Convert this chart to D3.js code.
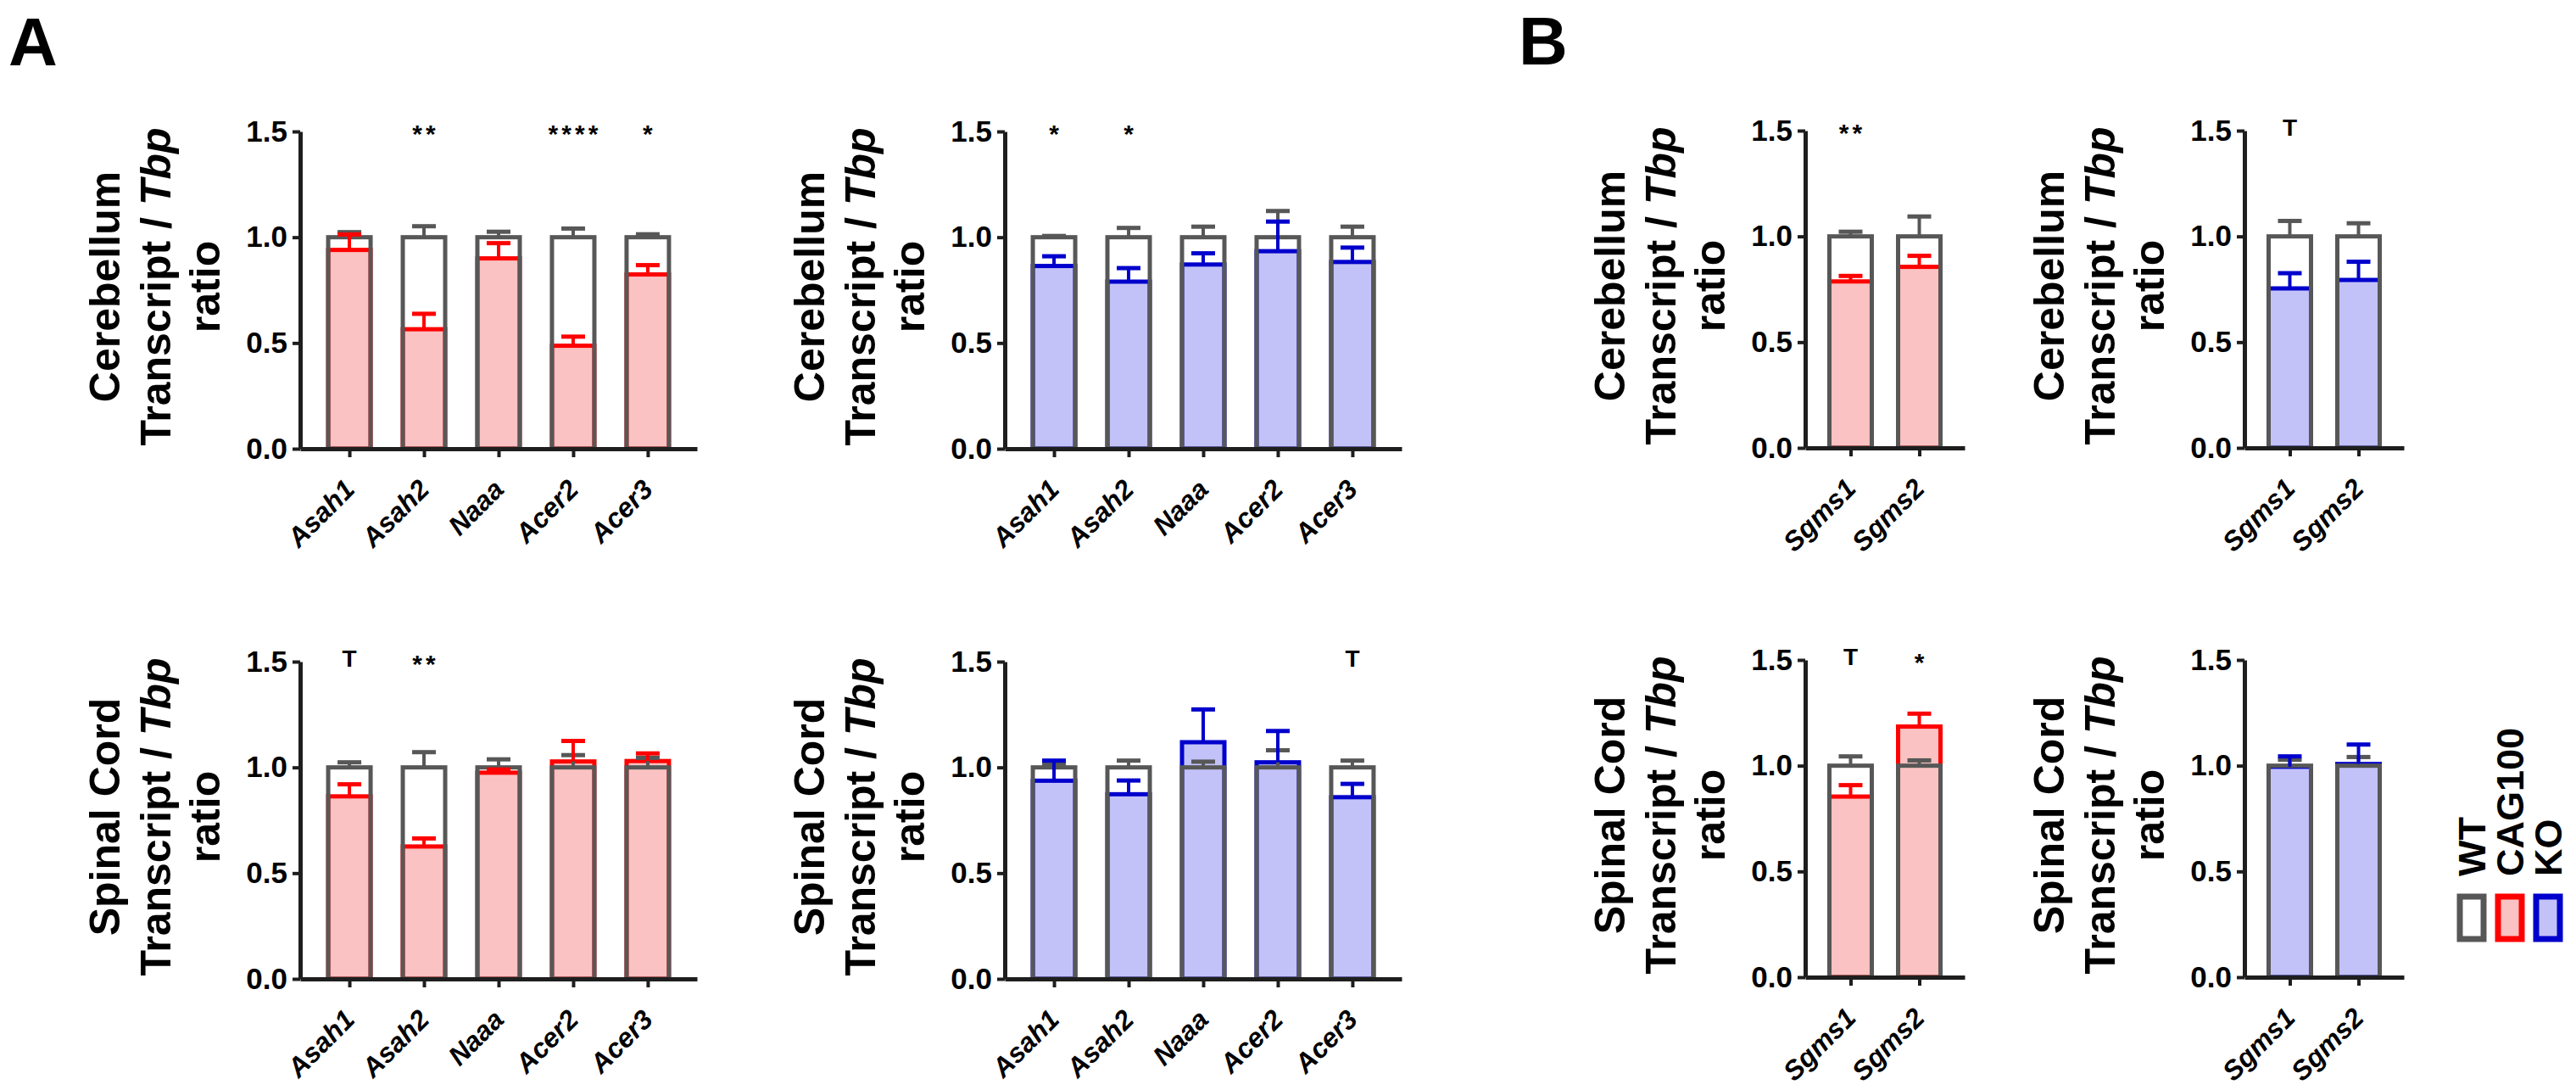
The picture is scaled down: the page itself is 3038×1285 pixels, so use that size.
<!DOCTYPE html>
<html>
<head>
<meta charset="utf-8">
<script src="https://d3js.org/d3.v7.min.js"></script>
<style>
    body { margin: 0; background: #ffffff; }
    text { font-family: "Liberation Sans", Arial, sans-serif; font-weight: bold; fill: #000000; }
</style>
</head>
<body>
<div id="chart"></div>
<script>
//gene categories
var aGenes = ['Asah1', 'Asah2', 'Naaa', 'Acer2', 'Acer3'];
var bGenes = ['Sgms1', 'Sgms2'];
var yTicks = [0, 0.5, 1.0, 1.5];
var groups = ['WT', 'CAG100', 'KO'];

//cerebellum, ceramidases, CAG100 (WT mean is 1)
var cbCagWtErr = [1.024, 1.052, 1.026, 1.041, 1.014];
var cbCagMean = [0.94, 0.565, 0.90, 0.487, 0.824];
var cbCagErr = [1.013, 0.638, 0.972, 0.53, 0.868];
var cbCagSig = ['', '**', '', '****', '*'];

//cerebellum, ceramidases, KO
var cbKoWtErr = [1.006, 1.044, 1.05, 1.124, 1.05];
var cbKoMean = [0.864, 0.79, 0.871, 0.934, 0.883];
var cbKoErr = [0.91, 0.854, 0.924, 1.074, 0.951];
var cbKoSig = ['*', '*', '', '', ''];

//spinal cord, ceramidases, CAG100
var scCagWtErr = [1.024, 1.072, 1.038, 1.058, 1.045];
var scCagMean = [0.863, 0.626, 0.975, 1.028, 1.03];
var scCagErr = [0.92, 0.664, 0.99, 1.125, 1.066];
var scCagSig = ['T', '**', '', '', ''];

//spinal cord, ceramidases, KO
var scKoWtErr = [1.016, 1.032, 1.027, 1.081, 1.032];
var scKoMean = [0.937, 0.873, 1.119, 1.024, 0.859];
var scKoErr = [1.032, 0.938, 1.274, 1.172, 0.922];
var scKoSig = ['', '', '', '', 'T'];

//cerebellum, sphingomyelin synthases
var cbSgCagWtErr = [1.022, 1.094];
var cbSgCagMean = [0.787, 0.856];
var cbSgCagErr = [0.813, 0.908];
var cbSgCagSig = ['**', ''];
var cbSgKoWtErr = [1.073, 1.062];
var cbSgKoMean = [0.754, 0.794];
var cbSgKoErr = [0.826, 0.88];
var cbSgKoSig = ['T', ''];

//spinal cord, sphingomyelin synthases
var scSgCagWtErr = [1.044, 1.025];
var scSgCagMean = [0.854, 1.185];
var scSgCagErr = [0.908, 1.246];
var scSgCagSig = ['T', '*'];
var scSgKoWtErr = [1.028, 1.041];
var scSgKoMean = [0.995, 1.008];
var scSgKoErr = [1.044, 1.1];
var scSgKoSig = ['', ''];

(function () {
    var width = 3038,
        height = 1285,
        plotHeight = 374,
        barWidth = 50,
        capWidth = 28,
        wtColor = '#575757',
        axisColor = '#1e1e1e',
        lineColors = { CAG100: '#ff0000', KO: '#0000cc' },
        fillColors = { CAG100: '#fac2c2', KO: '#c2c2f8' };

    //panel definitions
    var panels = [
        { genes: aGenes, tissue: 'Cerebellum', group: 'CAG100', wtErr: cbCagWtErr, mean: cbCagMean, err: cbCagErr, sig: cbCagSig, left: 354, top: 155, len: 468 },
        { genes: aGenes, tissue: 'Cerebellum', group: 'KO', wtErr: cbKoWtErr, mean: cbKoMean, err: cbKoErr, sig: cbKoSig, left: 1185, top: 155, len: 468 },
        { genes: aGenes, tissue: 'Spinal Cord', group: 'CAG100', wtErr: scCagWtErr, mean: scCagMean, err: scCagErr, sig: scCagSig, left: 354, top: 780, len: 468 },
        { genes: aGenes, tissue: 'Spinal Cord', group: 'KO', wtErr: scKoWtErr, mean: scKoMean, err: scKoErr, sig: scKoSig, left: 1185, top: 780, len: 468 },
        { genes: bGenes, tissue: 'Cerebellum', group: 'CAG100', wtErr: cbSgCagWtErr, mean: cbSgCagMean, err: cbSgCagErr, sig: cbSgCagSig, left: 2129, top: 154, len: 188 },
        { genes: bGenes, tissue: 'Cerebellum', group: 'KO', wtErr: cbSgKoWtErr, mean: cbSgKoMean, err: cbSgKoErr, sig: cbSgKoSig, left: 2647, top: 154, len: 188 },
        { genes: bGenes, tissue: 'Spinal Cord', group: 'CAG100', wtErr: scSgCagWtErr, mean: scSgCagMean, err: scSgCagErr, sig: scSgCagSig, left: 2129, top: 778, len: 188 },
        { genes: bGenes, tissue: 'Spinal Cord', group: 'KO', wtErr: scSgKoWtErr, mean: scSgKoMean, err: scSgKoErr, sig: scSgKoSig, left: 2647, top: 778, len: 188 }
    ];

    var svg = d3.select('#chart').append('svg')
        .attr('width', width)
        .attr('height', height);

    //draws an upward error bar with a cap
    function errorBar(g, x, y1, y2, color) {
        g.append('line')
            .attr('x1', x).attr('x2', x)
            .attr('y1', y1).attr('y2', y2)
            .attr('stroke', color).attr('stroke-width', 4);
        g.append('line')
            .attr('x1', x - capWidth / 2).attr('x2', x + capWidth / 2)
            .attr('y1', y2).attr('y2', y2)
            .attr('stroke', color).attr('stroke-width', 5);
    }

    //draws a single panel
    function drawPanel(p) {
        var g = svg.append('g'),
            bottom = p.top + plotHeight,
            y = d3.scaleLinear().domain([0, 1.5]).range([bottom, p.top]),
            x = d3.scalePoint().domain(p.genes).range([p.left, p.left + p.len]).padding(0.66);

        //mutant bars first, wt outline on top of them
        p.genes.forEach(function (d, i) {
            var cx = x(d);
            g.append('rect')
                .attr('x', cx - barWidth / 2)
                .attr('y', y(p.mean[i]))
                .attr('width', barWidth)
                .attr('height', bottom - y(p.mean[i]))
                .attr('fill', fillColors[p.group])
                .attr('stroke', lineColors[p.group])
                .attr('stroke-width', 5);
        });

        p.genes.forEach(function (d, i) {
            var cx = x(d);
            g.append('rect')
                .attr('x', cx - barWidth / 2)
                .attr('y', y(1))
                .attr('width', barWidth)
                .attr('height', bottom - y(1))
                .attr('fill', 'none')
                .attr('stroke', wtColor)
                .attr('stroke-width', 5);
        });

        //error bars
        p.genes.forEach(function (d, i) {
            var cx = x(d);
            errorBar(g, cx, y(1), y(p.wtErr[i]), wtColor);
            errorBar(g, cx, y(p.mean[i]), y(p.err[i]), lineColors[p.group]);
        });

        //y axis
        var yAxis = g.append('g')
            .attr('transform', 'translate(' + p.left + ',0)')
            .call(d3.axisLeft(y).tickValues(yTicks).tickFormat(d3.format('.1f')).tickSize(9).tickSizeOuter(0).tickPadding(6));

        //x axis
        var xAxis = g.append('g')
            .attr('transform', 'translate(0,' + bottom + ')')
            .call(d3.axisBottom(x).tickSize(10).tickSizeOuter(0).tickFormat(''));

        [yAxis, xAxis].forEach(function (a) {
            a.selectAll('path.domain').attr('stroke', axisColor).attr('stroke-width', 5);
            a.selectAll('.tick line').attr('stroke', axisColor).attr('stroke-width', 4);
        });
        yAxis.selectAll('.tick text')
            .attr('font-size', 35)
            .attr('font-family', '"Liberation Sans", Arial, sans-serif')
            .attr('font-weight', 'bold')
            .attr('fill', '#000');

        //rotated gene labels
        g.selectAll('text.gene')
            .data(p.genes)
            .enter().append('text')
            .attr('class', 'gene')
            .attr('text-anchor', 'end')
            .attr('font-size', 32)
            .attr('font-style', 'italic')
            .attr('transform', function (d) { return 'translate(' + (x(d) + 8) + ',' + (bottom + 50) + ') rotate(-45)'; })
            .text(function (d) { return d; });

        //significance marks
        p.genes.forEach(function (d, i) {
            var s = p.sig[i];
            if (!s) return;
            var isStar = s.charAt(0) === '*';
            g.append('text')
                .attr('x', x(d) + (isStar ? 2 : 0))
                .attr('y', isStar ? p.top - 4 + 17 : p.top - 4 + 10)
                .attr('text-anchor', 'middle')
                .attr('font-size', isStar ? 30 : 28)
                .attr('letter-spacing', isStar ? 4 : 0)
                .text(s);
        });

        //y axis title in three lines
        var midY = p.top + plotHeight / 2 - 4,
            offsets = [-230, -170, -112];
        offsets.forEach(function (o, k) {
            var t = g.append('text')
                .attr('transform', 'translate(' + (p.left + o) + ',' + midY + ') rotate(-90)')
                .attr('text-anchor', 'middle')
                .attr('dominant-baseline', 'central')
                .attr('font-size', 50);
            if (k === 0) t.text(p.tissue);
            else if (k === 1) {
                t.append('tspan').text('Transcript / ');
                t.append('tspan').attr('font-style', 'italic').text('Tbp');
            } else t.text('ratio');
        });
    }

    panels.forEach(drawPanel);

    //panel letters
    svg.append('text').attr('x', 10).attr('y', 77).attr('font-size', 80).text('A');
    svg.append('text').attr('x', 1791).attr('y', 76).attr('font-size', 80).text('B');

    //legend
    var legendX = [2915, 2960, 3005];
    groups.forEach(function (grp, i) {
        var stroke = grp === 'WT' ? wtColor : lineColors[grp],
            fill = grp === 'WT' ? '#ffffff' : fillColors[grp];
        svg.append('text')
            .attr('transform', 'translate(' + legendX[i] + ',1033) rotate(-90)')
            .attr('dominant-baseline', 'central')
            .attr('font-size', 45)
            .text(grp);
        svg.append('rect')
            .attr('x', legendX[i] - 14)
            .attr('y', 1057)
            .attr('width', 28)
            .attr('height', 50)
            .attr('fill', fill)
            .attr('stroke', stroke)
            .attr('stroke-width', 7);
    });
})();
</script>
</body>
</html>
